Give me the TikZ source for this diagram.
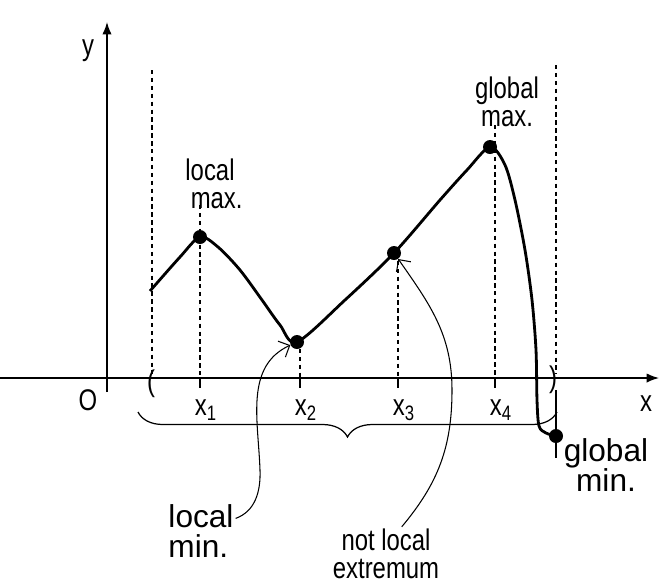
\documentclass[tikz,border=0pt]{standalone}
\usepackage{fontspec}
\setmainfont{Liberation Sans}[FakeStretch=0.8]
\newfontfamily\widefont{Liberation Sans}
\usetikzlibrary{decorations.pathreplacing}
\usetikzlibrary{shapes, positioning, arrows.meta, calc}

\begin{document}
\begin{tikzpicture}[
    x=0.02cm, y=-0.02cm,
    >=Latex,
    font=\fontsize{17pt}{16pt}\selectfont,
    dot/.style={circle, fill=black, inner sep=0pt, minimum size=0.28cm},
    guide/.style={dash pattern=on 2.5pt off 2pt, line width=0.7pt},
    note/.style={-{Straight Barb[length=5pt]}, line width=0.6pt},
    lbl/.style={align=center, inner sep=1pt},
    big/.style={font=\widefont\fontsize{18pt}{17.5pt}\selectfont}
]
    \useasboundingbox (0,0) rectangle (659,583);

    % --- axes ---
    \draw[line width=0.8pt, -{Latex[length=7pt]}] (0,378) -- (659,378);
    \draw[line width=0.8pt, -{Latex[length=7pt]}] (107,392) -- (107,22);
    \node (ylab) at (88,51) {y};
    \node (xlab) at (646,404) {x};
    \node (orig) at (88,400) {O};

    % --- interval ends ---
    \draw[guide] (152,70) -- (152,374);
    \draw[guide] (556,65) -- (556,374);
    \draw[line width=0.6pt] (556,390) -- (556,458);
    \node (lpar) at (151,384) {(};
    \node (rpar) at (553,380) {)};

    % --- ticks, guides and x_i labels ---
    \foreach \xx/\i/\top in {200/1/205, 300/2/341, 398/3/253, 495/4/125} {
        \draw[guide] (\xx,\top) -- (\xx,378);
        \draw[line width=0.8pt] (\xx,378) -- (\xx,388);
        \node (x\i) at (\xx+6,410) {x\textsubscript{\i}};
    }

    % --- brace under the interval ---
    \draw[line width=0.7pt, decorate, decoration={brace, mirror, amplitude=0.5cm}]
        (138,412) -- (557,412);

    % --- the graph ---
    \draw[line width=1.6pt, line join=round] plot[smooth, tension=0.5] coordinates {
        (150,291) (180,257) (200,237) (218,247) (240,270) (262,300) (280,325)
        (297,342) (345,300) (394,253) (440,200) (467,170)
        (490,147) (505,165) (515,200) (525,250) (532,300) (536,350) (537,400)
        (539,426) (546,433) (556,436)};

    % --- special points ---
    \node[dot] (lmax)   at (200,237) {};
    \node[dot] (lmin)   at (297,342) {};
    \node[dot] (xthree) at (394,253) {};
    \node[dot] (gmax)   at (490,147) {};
    \node[dot] (gmin)   at (556,436) {};

    % --- labels ---
    \node[lbl] (lmaxlbl) at (210,184) {local\\ \ \ max.};
    \node[lbl] (gmaxlbl) at (507,102) {global\\max.};
    \node[lbl, big] (gminlbl) at (606,465) {global\\min.};
    \node[lbl, big, align=left] (lminlbl) at (201,531) {local\\min.};
    \node[lbl] (nllbl) at (386,554) {not local\\extremum};

    % --- pointers ---
    \draw[note] (lminlbl.20) to[out=20, in=-88] (260,470) to[out=92, in=205] (lmin);
    \draw[note] (nllbl.60) to[out=50, in=-90] (452,390) to[out=90, in=-55] (xthree);

\end{tikzpicture}
\end{document}
